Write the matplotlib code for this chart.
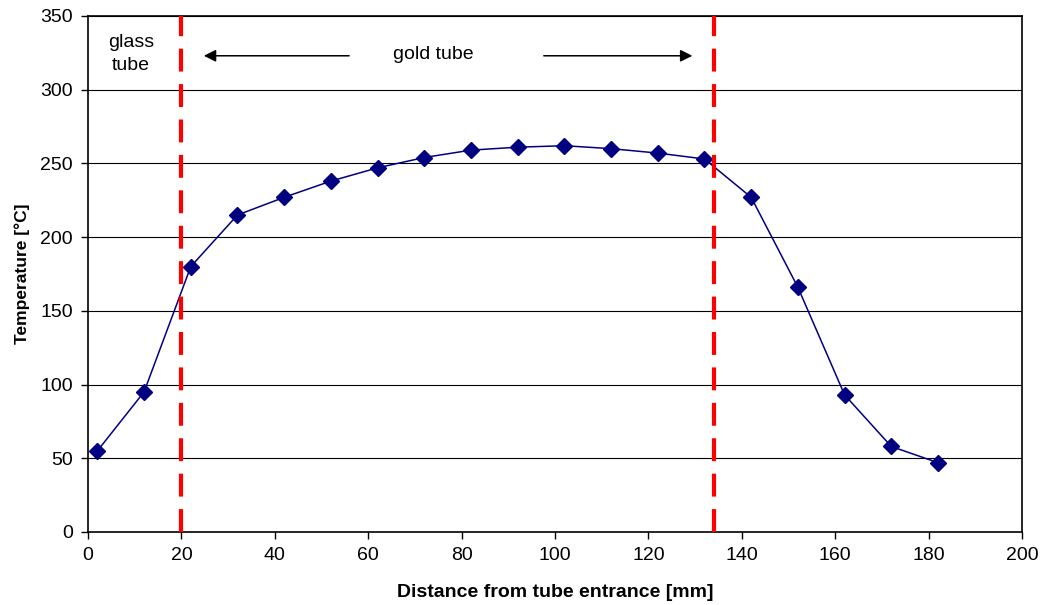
import matplotlib
matplotlib.use("Agg")
from matplotlib import pyplot as plt

plt.rcParams['font.family'] = ['Liberation Sans', 'DejaVu Sans']

# Measured temperature profile along the tube
distance = [2, 12, 22, 32, 42, 52, 62, 72, 82, 92, 102, 112, 122, 132, 142, 152, 162, 172, 182]
temperature = [55, 95, 180, 215, 227, 238, 247, 254, 259, 261, 262, 260, 257, 253, 227, 166, 93, 58, 47]
# Boundaries of the gold tube
boundaries = [20, 134]

fig = plt.figure(figsize=(10.43, 6.05), dpi=100)
ax = fig.add_axes([0.0844, 0.1207, 0.8955, 0.8529])

# Horizontal grid
for y in range(50, 351, 50):
    ax.axhline(y, color='k', lw=0.8, zorder=1)

ax.plot(distance, temperature, color='#000080', lw=1.1, marker='D', markersize=8, zorder=3)

for b in boundaries:
    ax.axvline(b, color='#ff0000', lw=3, dashes=(5.5, 3), zorder=4)

# Annotations
ax.text(9.2, 324, 'glass\ntube', ha='center', va='center', fontsize=14, linespacing=1.45)
ax.text(74, 324, 'gold tube', ha='center', va='center', fontsize=14)
ax.annotate('', xy=(24.2, 323), xytext=(56.5, 323),
            arrowprops=dict(arrowstyle='-|>', color='k', lw=1.1, mutation_scale=18))
ax.annotate('', xy=(130, 323), xytext=(97, 323),
            arrowprops=dict(arrowstyle='-|>', color='k', lw=1.1, mutation_scale=18))

ax.set_xlim(0, 200)
ax.set_ylim(0, 350)
ax.set_xticks(range(0, 201, 20))
ax.set_yticks(range(0, 351, 50))
ax.tick_params(labelsize=14, direction='out', length=5, width=1, pad=6)
for s in ax.spines.values():
    s.set_linewidth(1.2)
    s.set_color('k')

ax.set_xlabel('Distance from tube entrance [mm]', fontsize=14, fontweight='bold', labelpad=14)
ax.set_ylabel('Temperature [°C]', fontsize=12.5, fontweight='bold', labelpad=7)

fig.savefig('out.png', dpi=100)
